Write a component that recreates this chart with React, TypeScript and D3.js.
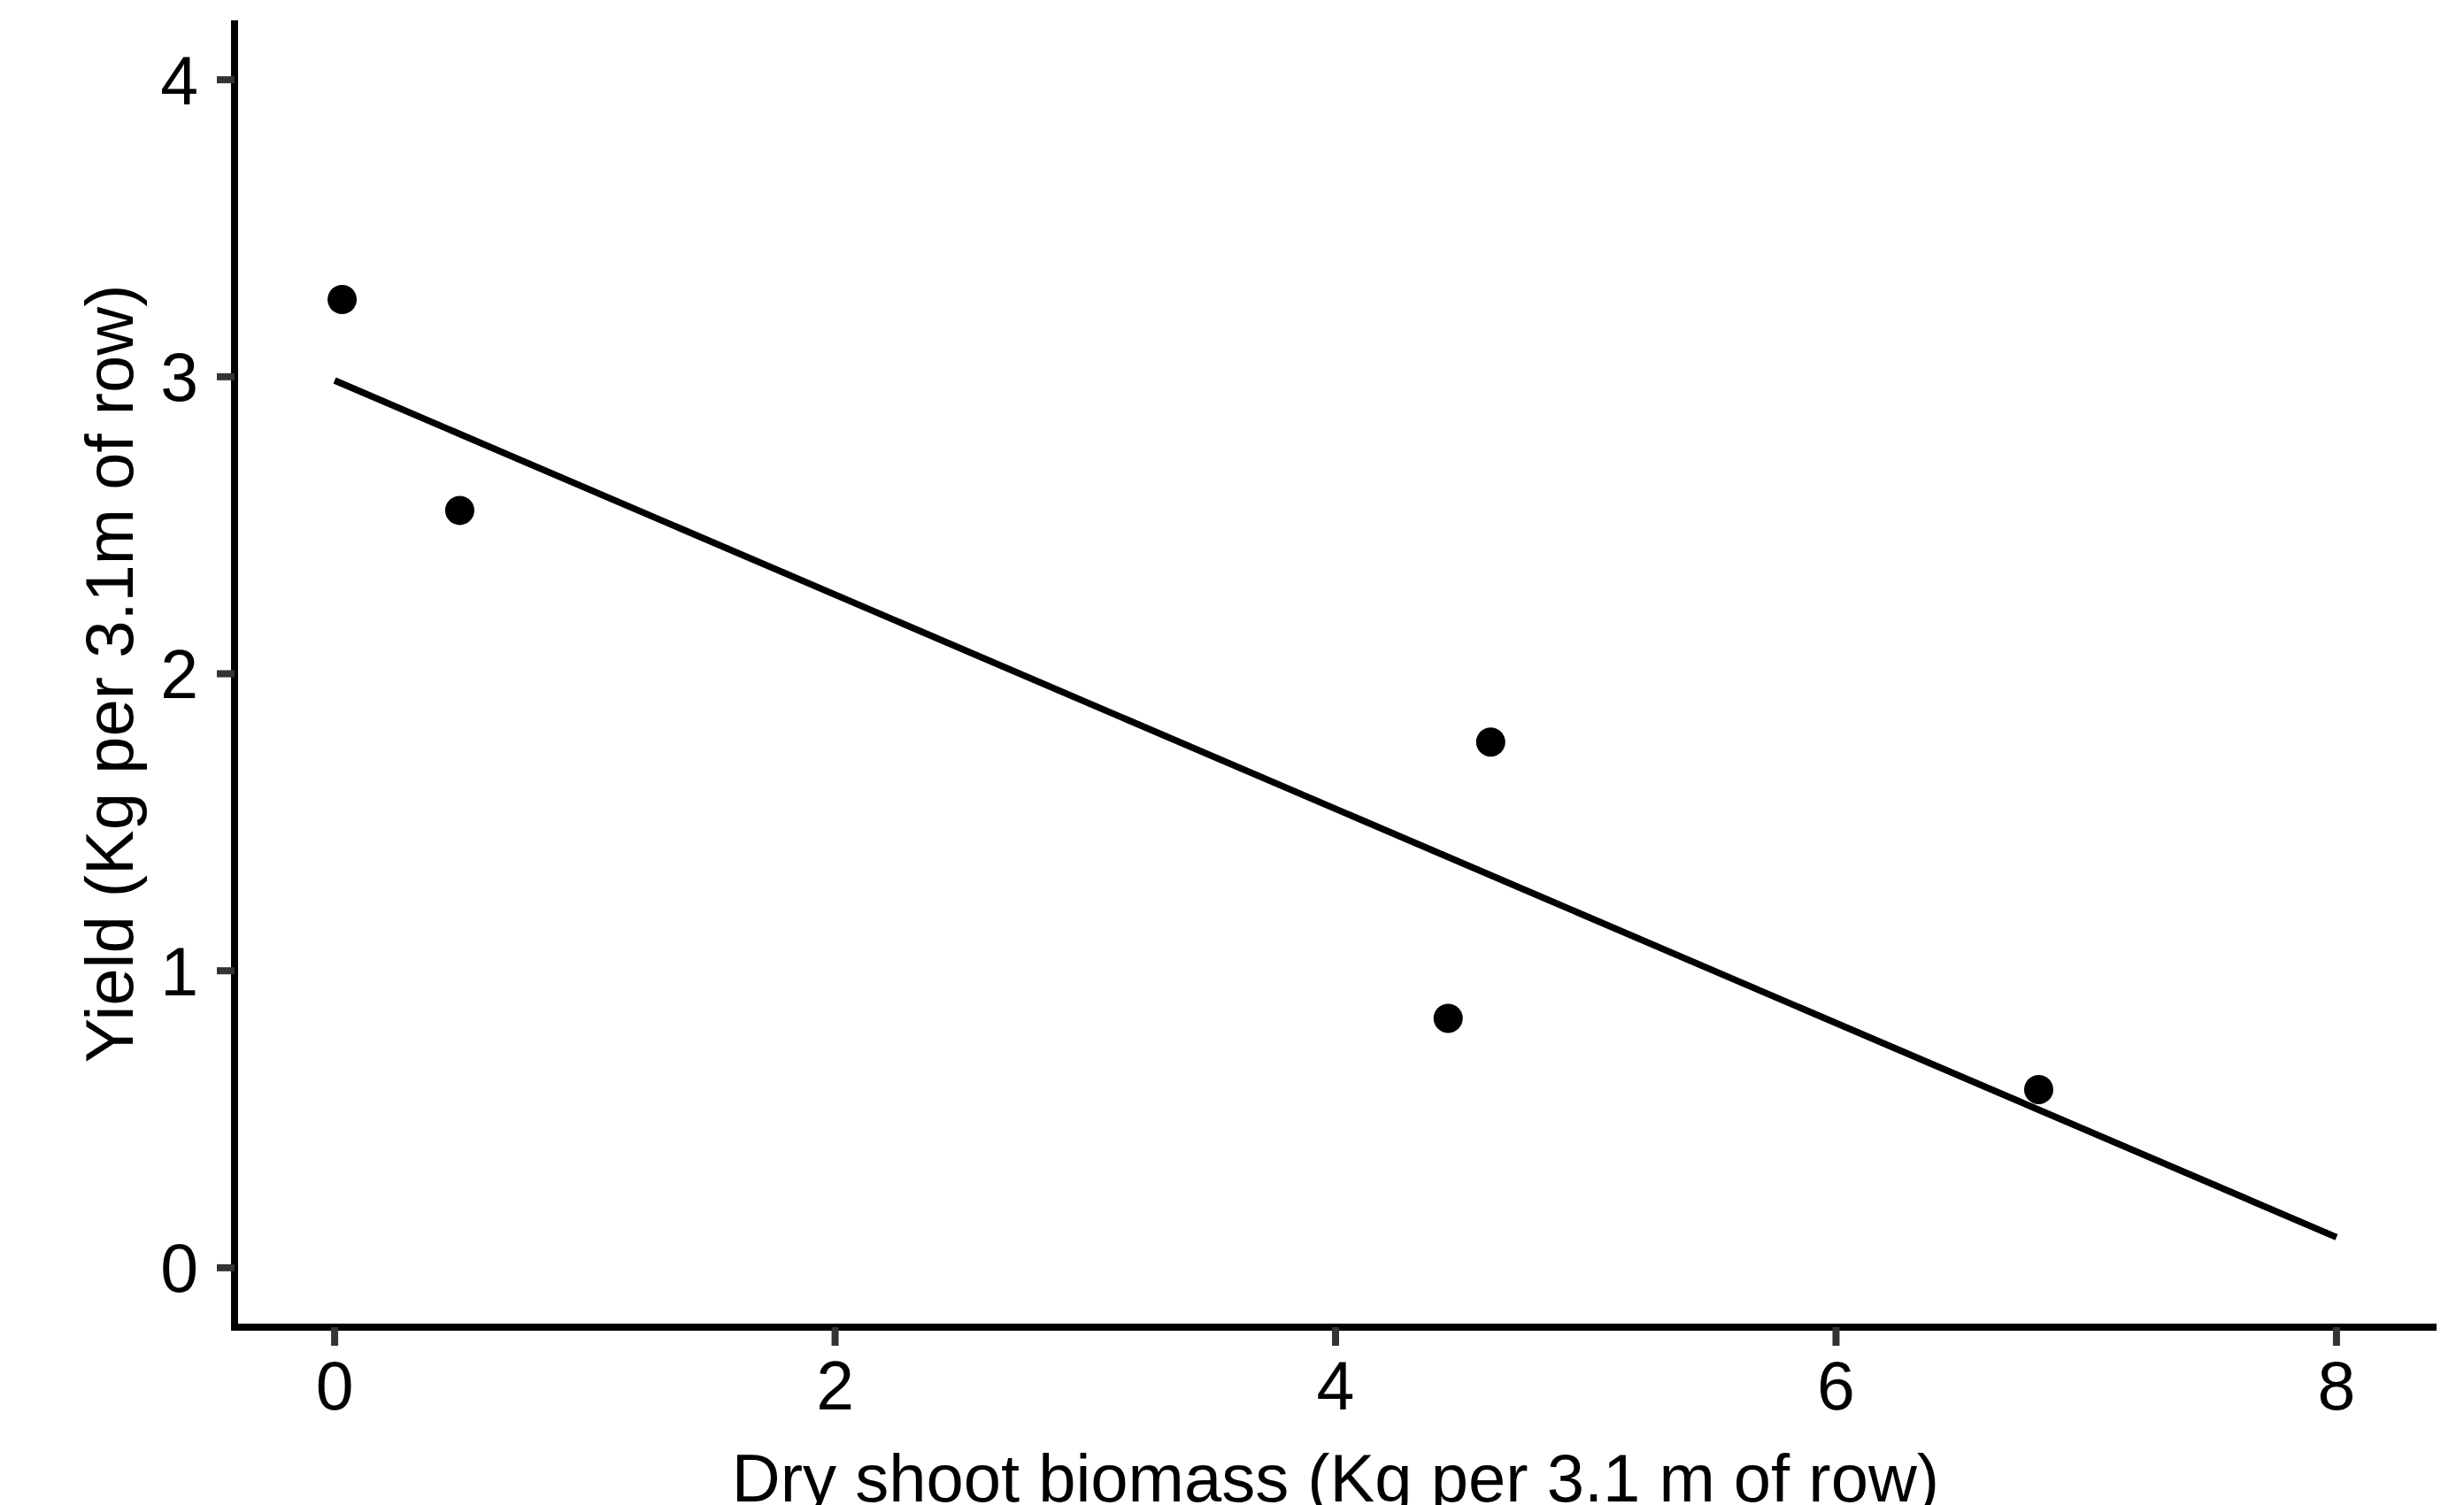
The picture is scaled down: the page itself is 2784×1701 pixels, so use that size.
import React from "react";
import * as d3 from "d3";

const biomass = [0.03, 0.5, 4.62, 4.45, 6.81];
const yieldKg = [3.26, 2.55, 1.77, 0.84, 0.6];
const fitRange = [0, 8];
const xTicks = [0, 2, 4, 6, 8];
const yTicks = [0, 1, 2, 3, 4];
const xLabel = "Dry shoot biomass (Kg per 3.1 m of row)";
const yLabel = "Yield (Kg per 3.1m of row)";

const W = 2784;
const H = 1701;
const left = 265;
const right = 2753;
const top = 23;
const bottom = 1500;

export default function App() {
  const x = d3.scaleLinear().domain([-0.4, 8.4]).range([left, right]);
  const y = d3.scaleLinear().domain([-0.2, 4.2]).range([bottom, top]);

  const mx = d3.mean(biomass)!;
  const my = d3.mean(yieldKg)!;
  let sxy = 0;
  let sxx = 0;
  biomass.forEach((v, i) => {
    sxy += (v - mx) * (yieldKg[i] - my);
    sxx += (v - mx) * (v - mx);
  });
  const slope = sxy / sxx;
  const intercept = my - slope * mx;
  const fit = fitRange.map((v) => [v, intercept + slope * v] as [number, number]);
  const line = d3
    .line<[number, number]>()
    .x((d) => x(d[0]))
    .y((d) => y(d[1]));

  const font = "'Liberation Sans', Arial, sans-serif";
  const fs = 77;
  const tfs = 76;

  return (
    <svg
      width={W}
      height={H}
      style={{ position: "absolute", left: 0, top: 0, background: "#fff" }}
      fontFamily={font}
    >
      <rect x={0} y={0} width={W} height={H} fill="#fff" />
      <path d={line(fit) || ""} fill="none" stroke="#000" strokeWidth={7.5} />
      {biomass.map((v, i) => (
        <circle key={i} cx={x(v)} cy={y(yieldKg[i])} r={16.5} fill="#000" />
      ))}
      <line x1={left} x2={left} y1={top} y2={bottom + 4} stroke="#000" strokeWidth={8} />
      <line x1={left - 4} x2={right} y1={bottom} y2={bottom} stroke="#000" strokeWidth={8} />
      {yTicks.map((t) => (
        <g key={"y" + t}>
          <line x1={left - 20} x2={left} y1={y(t)} y2={y(t)} stroke="#333" strokeWidth={8} />
          <text x={224} y={y(t)} dy="0.357em" textAnchor="end" fontSize={fs} fill="#000">
            {t}
          </text>
        </g>
      ))}
      {xTicks.map((t) => (
        <g key={"x" + t}>
          <line x1={x(t)} x2={x(t)} y1={bottom} y2={bottom + 21} stroke="#333" strokeWidth={8} />
          <text x={x(t)} y={1593} textAnchor="middle" fontSize={fs} fill="#000">
            {t}
          </text>
        </g>
      ))}
      <text x={(left + right) / 2} y={1697} textAnchor="middle" fontSize={tfs} fill="#000">
        {xLabel}
      </text>
      <text
        transform={`translate(150, ${(top + bottom) / 2}) rotate(-90)`}
        textAnchor="middle"
        fontSize={tfs}
        fill="#000"
      >
        {yLabel}
      </text>
    </svg>
  );
}
